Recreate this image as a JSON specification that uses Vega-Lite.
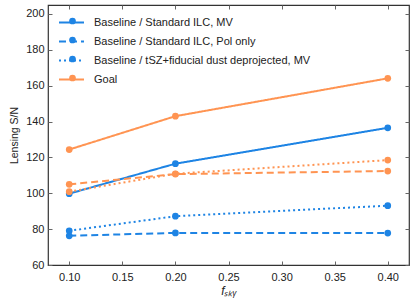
{
  "$schema": "https://vega.github.io/schema/vega-lite/v6.json",
  "width": 361,
  "height": 260,
  "autosize": {"type": "none"},
  "padding": {"left": 48, "top": 5, "right": 6, "bottom": 42},
  "background": "white",
  "config": {
    "font": "Liberation Sans",
    "view": {"stroke": "#333333", "strokeWidth": 1.2},
    "axis": {
      "domain": false,
      "grid": false,
      "tickSize": -4,
      "tickColor": "#666666",
      "labelFont": "Liberation Sans",
      "labelFontSize": 11,
      "labelColor": "#222222",
      "titleFont": "Liberation Sans",
      "titleFontWeight": "normal",
      "titleColor": "#222222"
    },
    "legend": {"padding": 0, "labelLimit": 0}
  },
  "data": {
    "values": [
      {"fsky": 0.1, "sn": 99.8, "series": "Baseline / Standard ILC, MV", "key": "Baseline / Standard ILC, MV"},
      {"fsky": 0.2, "sn": 116.5, "series": "Baseline / Standard ILC, MV", "key": "Baseline / Standard ILC, MV"},
      {"fsky": 0.4, "sn": 136.5, "series": "Baseline / Standard ILC, MV", "key": "Baseline / Standard ILC, MV"},
      {"fsky": 0.1, "sn": 76.3, "series": "Baseline / Standard ILC, Pol only", "key": "Baseline / Standard ILC, Pol only"},
      {"fsky": 0.2, "sn": 77.9, "series": "Baseline / Standard ILC, Pol only", "key": "Baseline / Standard ILC, Pol only"},
      {"fsky": 0.4, "sn": 77.8, "series": "Baseline / Standard ILC, Pol only", "key": "Baseline / Standard ILC, Pol only"},
      {"fsky": 0.1, "sn": 79.1, "series": "Baseline / tSZ+fiducial dust deprojected, MV", "key": "Baseline / tSZ+fiducial dust deprojected, MV"},
      {"fsky": 0.2, "sn": 87.2, "series": "Baseline / tSZ+fiducial dust deprojected, MV", "key": "Baseline / tSZ+fiducial dust deprojected, MV"},
      {"fsky": 0.4, "sn": 93.1, "series": "Baseline / tSZ+fiducial dust deprojected, MV", "key": "Baseline / tSZ+fiducial dust deprojected, MV"},
      {"fsky": 0.1, "sn": 124.4, "series": "Goal", "key": "Goal"},
      {"fsky": 0.2, "sn": 143.0, "series": "Goal", "key": "Goal"},
      {"fsky": 0.4, "sn": 164.1, "series": "Goal", "key": "Goal"},
      {"fsky": 0.1, "sn": 105.0, "series": "Goal / Standard ILC, Pol only", "key": "Goal / Standard ILC, Pol only"},
      {"fsky": 0.2, "sn": 110.7, "series": "Goal / Standard ILC, Pol only", "key": "Goal / Standard ILC, Pol only"},
      {"fsky": 0.4, "sn": 112.4, "series": "Goal / Standard ILC, Pol only", "key": "Goal / Standard ILC, Pol only"},
      {"fsky": 0.1, "sn": 100.9, "series": "Goal / tSZ+fiducial dust deprojected, MV", "key": "Goal / tSZ+fiducial dust deprojected, MV"},
      {"fsky": 0.2, "sn": 110.9, "series": "Goal / tSZ+fiducial dust deprojected, MV", "key": "Goal / tSZ+fiducial dust deprojected, MV"},
      {"fsky": 0.4, "sn": 118.5, "series": "Goal / tSZ+fiducial dust deprojected, MV", "key": "Goal / tSZ+fiducial dust deprojected, MV"}
    ]
  },
  "resolve": {"axis": {"x": "independent", "y": "independent"}},
  "layer": [
    {
      "mark": {"type": "line", "strokeWidth": 2},
      "encoding": {
        "x": {
          "field": "fsky", "type": "quantitative",
          "scale": {"domain": [0.08, 0.42], "nice": false, "zero": false},
          "axis": {"values": [0.1, 0.15, 0.2, 0.25, 0.3, 0.35, 0.4], "format": ".2f", "labelPadding": 10, "title": "fₛₖᵧ", "titleFontSize": 12, "titleFontStyle": "italic", "titlePadding": 3}
        },
        "y": {
          "field": "sn", "type": "quantitative",
          "scale": {"domain": [60, 205], "nice": false, "zero": false},
          "axis": {"values": [60, 80, 100, 120, 140, 160, 180, 200], "labelPadding": 8, "title": "Lensing S/N", "titleFontSize": 10.5, "titlePadding": 6}
        },
        "color": {
          "field": "series", "type": "nominal",
          "scale": {"range": ["#1e84e4", "#1e84e4", "#1e84e4", "#ff9452", "#ff9452", "#ff9452"]},
          "legend": {
            "orient": "none", "legendX": 10, "legendY": 4, "title": null,
            "values": ["Baseline / Standard ILC, MV", "Baseline / Standard ILC, Pol only", "Baseline / tSZ+fiducial dust deprojected, MV", "Goal"],
            "symbolType": "stroke", "symbolSize": 625, "symbolStrokeWidth": 2,
            "labelFontSize": 11, "labelColor": "#222222", "labelOffset": 9, "rowPadding": -1
          }
        },
        "strokeDash": {
          "field": "series", "type": "nominal",
          "scale": {"range": [[1, 0], [7, 4], [2, 3], [1, 0], [7, 4], [2, 3]]},
          "legend": {
            "orient": "none", "legendX": 10, "legendY": 4, "title": null,
            "values": ["Baseline / Standard ILC, MV", "Baseline / Standard ILC, Pol only", "Baseline / tSZ+fiducial dust deprojected, MV", "Goal"]
          }
        }
      }
    },
    {
      "mark": {"type": "point", "filled": true, "size": 45, "opacity": 1},
      "encoding": {
        "x": {"field": "fsky", "type": "quantitative", "axis": {"orient": "top", "values": [0.1, 0.15, 0.2, 0.25, 0.3, 0.35, 0.4], "labels": false, "title": null}},
        "y": {"field": "sn", "type": "quantitative", "axis": {"orient": "right", "values": [60, 80, 100, 120, 140, 160, 180, 200], "labels": false, "title": null}},
        "fill": {
          "field": "key", "type": "nominal",
          "scale": {"range": ["#1e84e4", "#1e84e4", "#1e84e4", "#ff9452", "#ff9452", "#ff9452"]},
          "legend": {
            "orient": "none", "legendX": 19, "legendY": 10.5, "title": null,
            "values": ["Baseline / Standard ILC, MV", "Baseline / Standard ILC, Pol only", "Baseline / tSZ+fiducial dust deprojected, MV", "Goal"],
            "symbolType": "circle", "symbolSize": 45, "symbolOpacity": 1, "symbolStrokeWidth": 0,
            "labelFontSize": 11, "labelExpr": "''", "labelOffset": 0, "rowPadding": 7
          }
        }
      }
    }
  ]
}
